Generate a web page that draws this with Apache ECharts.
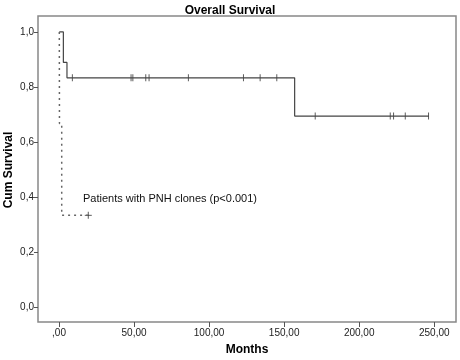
<!DOCTYPE html>
<html><head><meta charset="utf-8">
<script src="https://cdn.jsdelivr.net/npm/echarts@6/dist/echarts.min.js"></script>
<style>html,body{margin:0;padding:0;background:#fff}#c{width:460px;height:360px}</style>
</head><body><div id="c"></div>
<script>
// Data (months, cumulative survival)
const allPatientsCurve = [[0.2,1.0],[2.9,0.889],[5.3,0.833],[157,0.694],[246.5,0.694]];
const allPatientsCensored = [[8.9,0.833],[48,0.833],[49.2,0.833],[57.8,0.833],[60,0.833],[86.2,0.833],[122.9,0.833],[134,0.833],[145.1,0.833],[170.7,0.694],[220.7,0.694],[222.9,0.694],[230.7,0.694],[246.2,0.694]];
const pnhCurve = [[0.2,1.0],[0.3,0.667],[1.8,0.333],[19.5,0.333]];
const pnhCensored = [[19.5,0.333]];
const xTicks = [0,50,100,150,200,250];
const yTicks = [0,0.2,0.4,0.6,0.8,1.0];
const titleText = 'Overall Survival';
const xName = 'Months';
const yName = 'Cum Survival';
const annotation = 'Patients with PNH clones (p<0.001)';

const font = 'Liberation Sans, Arial, sans-serif';
const nameStyle = {fontFamily:font,fontSize:12,fontWeight:'bold',fill:'#000',align:'center',verticalAlign:'middle'};
const chart = echarts.init(document.getElementById('c'));
chart.setOption({
  animation:false,
  title:{text:titleText,left:'center',top:0,textStyle:{fontFamily:font,fontSize:12,fontWeight:'bold',color:'#000'}},
  grid:{left:38,right:4,top:16,bottom:38,show:true,borderColor:'#888',borderWidth:1.5,backgroundColor:'#fff',outerBoundsMode:'none',containLabel:false},
  xAxis:{type:'value',min:-14,max:264.5,
    axisLine:{show:false,onZero:false},splitLine:{show:false},
    axisTick:{show:true,length:5,lineStyle:{color:'#555'},customValues:xTicks},
    axisLabel:{customValues:xTicks,fontFamily:font,fontSize:10,color:'#222',margin:6,
      formatter:v=> v===0 ? ',00' : v.toFixed(2).replace('.',',')}},
  yAxis:{type:'value',min:-0.055,max:1.058,
    axisLine:{show:false,onZero:false},splitLine:{show:false},
    axisTick:{show:true,length:4,lineStyle:{color:'#555'},customValues:yTicks},
    axisLabel:{customValues:yTicks,fontFamily:font,fontSize:10,color:'#222',margin:4,
      formatter:v=> v.toFixed(1).replace('.',',')}},
  series:[
    {type:'line',data:allPatientsCurve,step:'end',symbol:'none',lineStyle:{color:'#444',width:1.2}},
    {type:'line',data:pnhCurve,step:'end',symbol:'none',lineStyle:{color:'#666',width:1.5,type:[2,4]}},
    {type:'scatter',data:allPatientsCensored,symbol:'rect',symbolSize:[1,7],itemStyle:{color:'#333'}},
    {type:'scatter',data:pnhCensored,symbol:'rect',symbolSize:[1,7],itemStyle:{color:'#333'}},
    {type:'scatter',data:pnhCensored,symbol:'rect',symbolSize:[7,1],itemStyle:{color:'#333'}}
  ],
  graphic:[
    {type:'text',left:83,top:193,style:{text:annotation,fontFamily:font,fontSize:11,fill:'#111'}},
    {type:'text',x:247,y:350,style:Object.assign({text:xName},nameStyle)},
    {type:'text',x:9,y:170,rotation:Math.PI/2,style:Object.assign({text:yName},nameStyle)}
  ]
});
</script></body></html>
